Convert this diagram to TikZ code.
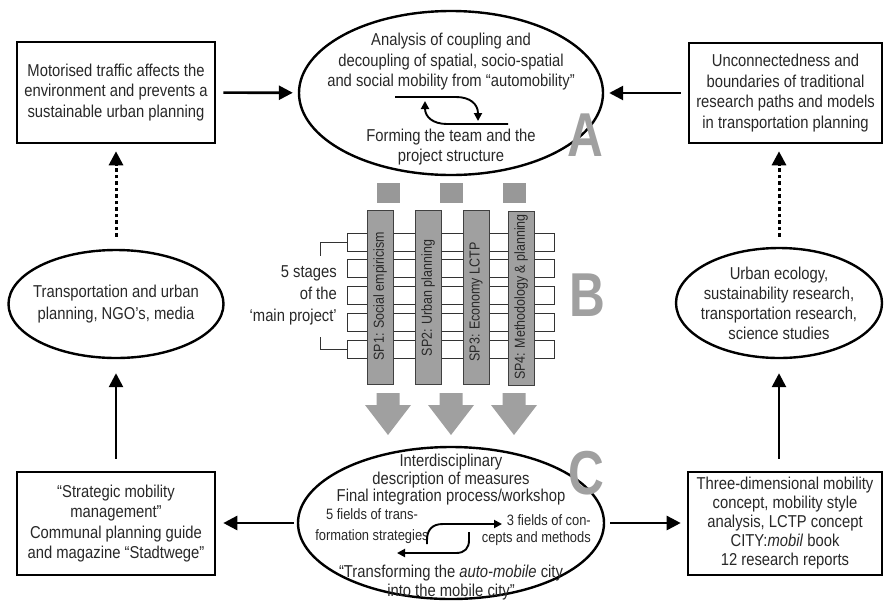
\documentclass[tikz,border=0pt]{standalone}
\usepackage{fontspec}
\setmainfont[FakeStretch=0.86]{Liberation Sans}
\newfontfamily\bigletter[FakeStretch=0.8]{Liberation Sans}
\usetikzlibrary{shapes.geometric,arrows.meta}
\definecolor{txtc}{RGB}{40,40,40}
\definecolor{greyl}{RGB}{160,160,160}
\definecolor{greyc}{RGB}{160,160,160}
\begin{document}
\begin{tikzpicture}[x=1pt,y=-1pt,
  box/.style={draw=black, line width=2.6pt, inner sep=0pt, fill=white},
  ell/.style={ellipse, draw=black, line width=2.4pt, inner sep=0pt},
  arr/.style={line width=2.6pt, -{Triangle[length=14pt,width=14pt]}},
  dotarr/.style={arr, line width=3pt, dash pattern=on 3.5pt off 3pt},
  smallarr/.style={line width=1.9pt, -{Triangle[length=8pt,width=8pt]}},
  txt/.style={align=center, text=txtc, font=\fontsize{17.2}{20.5}\selectfont, inner sep=0pt},
  bigl/.style={text=greyl, font=\bigletter\bfseries\fontsize{62}{62}\selectfont, inner sep=0pt},
  col/.style={draw=black!75, line width=1pt, fill=greyc, minimum width=26pt, minimum height=174pt, inner sep=0pt},
  stage/.style={draw=black!80, line width=1pt, fill=white, minimum width=207pt, minimum height=18pt, inner sep=0pt},
  sq/.style={fill=greyc!95!black, minimum width=23pt, minimum height=20pt, inner sep=0pt},
  sp/.style={rotate=90, text=txtc, font=\fontsize{14.5}{14.5}\selectfont, inner sep=0pt}
]
\useasboundingbox (0,0) rectangle (885,603);

% ---------- outer boxes ----------
\node[box, minimum width=198pt, minimum height=101pt] (tl) at (116,92.5) {};
\node[txt] at (tl) {Motorised traffic affects the\\environment and prevents a\\sustainable urban planning};

\node[box, minimum width=193pt, minimum height=100pt] (tr) at (785.5,93) {};
\node[txt] at (tr) {Unconnectedness and\\boundaries of traditional\\research paths and models\\in transportation planning};

\node[box, minimum width=198pt, minimum height=103pt] (bl) at (116,523.5) {};
\node[txt] at (bl) {“Strategic mobility\\management”\\Communal planning guide\\and magazine “Stadtwege”};

\node[box, minimum width=194pt, minimum height=103pt] (br) at (785,523.5) {};
\node[txt, font=\fontsize{17.2}{19}\selectfont] at (br) {Three-dimensional mobility\\concept, mobility style\\analysis, LCTP concept\\CITY:\textit{mobil} book\\12 research reports};

% ---------- side ellipses ----------
\node[ell, minimum width=215pt, minimum height=108pt] (lE) at (116,304) {};
\node[txt, font=\fontsize{17.2}{22}\selectfont] at (lE) {Transportation and urban\\planning, NGO’s, media};

\node[ell, minimum width=206pt, minimum height=110pt] (rE) at (779,303) {};
\node[txt, font=\fontsize{17.2}{20}\selectfont] at (rE) {Urban ecology,\\sustainability research,\\transportation research,\\science studies};

% ---------- top ellipse (A) ----------
\node[ell, minimum width=304pt, minimum height=164pt] (topE) at (451,93) {};
\node[txt] (topT) at (451,62) {Analysis of coupling and\\decoupling of spatial, socio-spatial\\and social mobility from “automobility”};
\node[txt] (topB) at (451,147) {Forming the team and the\\project structure};
\draw[smallarr] (395,97) -- (456,97) .. controls (470,97) and (478,104) .. (478,121);
\draw[smallarr] (508,124) -- (447,124) .. controls (433,124) and (425,117) .. (425,101);
\node[bigl] (A) at (585,135) {A};

% ---------- middle (B) ----------
\foreach \x/\n in {388/s1,451/s2,514/s3} {
  \node[sq] (\n) at (\x,193) {};
}
\foreach \y/\n in {242/r1,268/r2,295/r3,322/r4,349/r5} {
  \node[stage] (\n) at (450.5,\y) {};
}
\node[col] (c1) at (380,297) {};
\node[col] (c2) at (428,297) {};
\node[col] (c3) at (476,297) {};
\node[col] (c4) at (521,298) {};
\node[sp] at (380,296) {SP1: Social empiricism};
\node[sp] at (428,298) {SP2: Urban planning};
\node[sp] at (476,302) {SP3: Economy LCTP};
\node[sp] at (521,297) {SP4: Methodology \& planning};

\coordinate (bt) at (320,256);
\coordinate (bb) at (320,337);
\draw[line width=1pt, black!80] (r1.west) -- (r1.west -| bt) -- (bt);
\draw[line width=1pt, black!80] (r5.west) -- (r5.west -| bb) -- (bb);
\node[txt, align=right, anchor=east, font=\fontsize{17.2}{22}\selectfont] (stg) at (337,295) {5 stages\\of the\\‘main project’};
\node[bigl] (B) at (587,295) {B};

% grey down arrows
\foreach \x/\n in {388/d1,451/d2,514/d3} {
  \fill[greyc] (\x-11.5,393) -- (\x+11.5,393) -- (\x+11.5,405) -- (\x+23,405) -- (\x,435) -- (\x-23,405) -- (\x-11.5,405) -- cycle;
}

% ---------- bottom ellipse (C) ----------
\node[ell, minimum width=306pt, minimum height=152pt] (botE) at (451,523) {};
\node[txt, font=\fontsize{17.2}{17.5}\selectfont] (botT) at (451,480) {Interdisciplinary\\description of measures\\Final integration process/workshop};
\node[txt, font=\fontsize{15}{21}\selectfont] (f5) at (372,526) {5 fields of trans-\\formation strategies};
\node[txt, align=right, anchor=east, font=\fontsize{15}{16.5}\selectfont] (f3) at (591,530) {3 fields of con-\\cepts and methods};
\node[txt, font=\fontsize{17.2}{19}\selectfont] (botB) at (451,583) {“Transforming the \textit{auto-mobile} city\\into the mobile city”};
\draw[smallarr] (427,544) -- (427,540) .. controls (427,530) and (432,524) .. (443,524) -- (502,524);
\draw[smallarr] (469,532) -- (469,540) .. controls (469,548) and (465,553) .. (456,553) -- (397,553);
\node[bigl] (C) at (586,473) {C};

% ---------- connectors ----------
\draw[arr, shorten <=7pt, shorten >=5pt] (tl) -- (topE);
\draw[arr, shorten <=7pt, shorten >=5pt] (tr) -- (topE);
\draw[dotarr, shorten <=12pt, shorten >=7pt] (lE.north) -- (tl.south);
\draw[dotarr, shorten <=10pt, shorten >=7pt] (rE.north) -- (rE.north |- tr.south);
\draw[arr, shorten <=12pt, shorten >=14pt] (bl.north) -- (lE.south);
\draw[arr, shorten <=12pt, shorten >=14pt] (br.north -| rE.south) -- (rE.south);
\draw[arr, shorten <=3pt, shorten >=7pt] (botE.west) -- (botE.west -| bl.east);
\draw[arr, shorten <=5pt, shorten >=6pt] (botE.east) -- (botE.east -| br.west);
\end{tikzpicture}
\end{document}
